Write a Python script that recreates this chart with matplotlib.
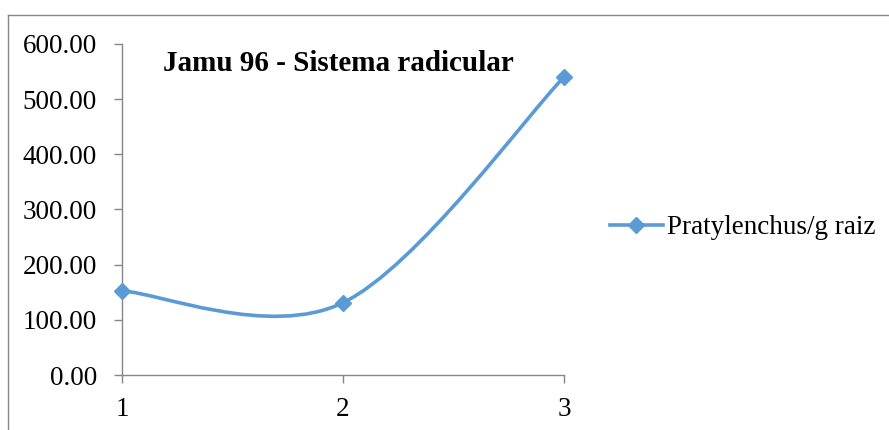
import numpy as np
import matplotlib
matplotlib.use('Agg')
import matplotlib.pyplot as plt
from matplotlib.path import Path
from matplotlib.patches import PathPatch
from matplotlib.lines import Line2D
import matplotlib.ticker as mtick

plt.rcParams['font.family'] = ['Liberation Serif', 'DejaVu Serif']

BLUE = '#5B9BD5'
GRAY = '#868686'

# data
x_vals = [1, 2, 3]
y_vals = [152.5, 131.0, 540.0]
series_name = 'Pratylenchus/g raiz'
title = 'Jamu 96 - Sistema radicular'
y_ticks = [0, 100, 200, 300, 400, 500, 600]


def excel_smooth(xs, ys):
    # Catmull-Rom style bezier like Excel's "smoothed line"
    pts = np.column_stack([xs, ys]).astype(float)
    n = len(pts)
    verts = [pts[0]]
    codes = [Path.MOVETO]
    for i in range(n - 1):
        p0 = pts[max(i - 1, 0)]
        p1 = pts[i]
        p2 = pts[i + 1]
        p3 = pts[min(i + 2, n - 1)]
        c1 = p1 + (p2 - p0) / 6.0
        c2 = p2 - (p3 - p1) / 6.0
        verts += [c1, c2, p2]
        codes += [Path.CURVE4] * 3
    return Path(verts, codes)


fig = plt.figure(figsize=(8.89, 4.3), dpi=100)
ax = fig.add_axes([0.1372, 0.1279, 0.4972, 0.7698])

ax.add_patch(PathPatch(excel_smooth(x_vals, y_vals), facecolor='none',
                       edgecolor=BLUE, linewidth=2.6, capstyle='round', zorder=2))
ax.plot(x_vals, y_vals, linestyle='none', marker='D', markersize=8.5,
        color=BLUE, zorder=3, clip_on=False)

ax.set_xlim(1, 3)
ax.set_ylim(0, 600)
ax.set_xticks(x_vals)
ax.set_yticks(y_ticks)
ax.yaxis.set_major_formatter(mtick.FormatStrFormatter('%.2f'))
ax.tick_params(axis='both', labelsize=19.5, color=GRAY, length=6, width=1,
               direction='out')
ax.tick_params(axis='y', pad=12)
ax.tick_params(axis='x', pad=10)
for s in ['top', 'right']:
    ax.spines[s].set_visible(False)
for s in ['left', 'bottom']:
    ax.spines[s].set_color(GRAY)
    ax.spines[s].set_linewidth(1)

ax.text(0.093, 0.94, title, transform=ax.transAxes, fontsize=21,
        fontweight='bold', ha='left', va='center')

handle = Line2D([], [], color=BLUE, linewidth=2.6, marker='D', markersize=8.5)
fig.legend([handle], [series_name], loc='center left',
           bbox_to_anchor=(0.686, 0.47), frameon=False, fontsize=19.5,
           handlelength=1.95, handletextpad=0.15, borderaxespad=0,
           borderpad=0)

# outer chart frame (clipped by the image at right and bottom)
fig.add_artist(Line2D([8 / 889, 1.0], [1 - 15 / 430, 1 - 15 / 430],
                      color=GRAY, linewidth=1, transform=fig.transFigure))
fig.add_artist(Line2D([8 / 889, 8 / 889], [1 - 15 / 430, 0.0],
                      color=GRAY, linewidth=1, transform=fig.transFigure))

fig.savefig('out.png', dpi=100)
